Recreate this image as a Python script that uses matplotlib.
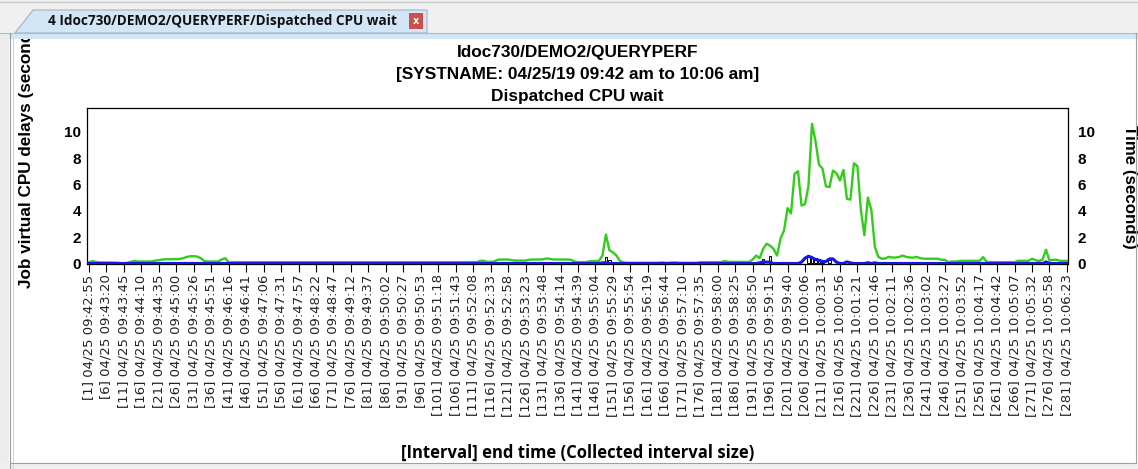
import numpy as np
import matplotlib
matplotlib.use("Agg")
import matplotlib.pyplot as plt
from matplotlib.patches import Rectangle, Polygon
from matplotlib.lines import Line2D

W, H = 1138, 469

# ---------------- data ----------------
green = [
    0.10, 0.18, 0.12, 0.08, 0.08, 0.08, 0.08, 0.07, 0.06, 0.03,   # 1-10
    0.00, 0.05, 0.12, 0.20, 0.15, 0.15, 0.15, 0.15, 0.16, 0.22,   # 11-20
    0.25, 0.30, 0.32, 0.32, 0.33, 0.33, 0.35, 0.40, 0.50, 0.55,   # 21-30
    0.55, 0.52, 0.40, 0.18, 0.15, 0.15, 0.15, 0.15, 0.30, 0.40,   # 31-40
    0.08, 0.10, 0.10, 0.10, 0.10, 0.10, 0.10, 0.10, 0.10, 0.10,   # 41-50
    0.10, 0.10, 0.10, 0.10, 0.10, 0.10, 0.10, 0.10, 0.10, 0.10,   # 51-60
    0.10, 0.10, 0.10, 0.10, 0.10, 0.10, 0.10, 0.10, 0.10, 0.10,   # 61-70
    0.10, 0.10, 0.10, 0.10, 0.10, 0.10, 0.10, 0.10, 0.10, 0.10,   # 71-80
    0.10, 0.10, 0.10, 0.10, 0.10, 0.10, 0.10, 0.10, 0.10, 0.10,   # 81-90
    0.10, 0.10, 0.10, 0.10, 0.10, 0.10, 0.10, 0.10, 0.10, 0.10,   # 91-100
    0.10, 0.10, 0.10, 0.10, 0.10, 0.10, 0.10, 0.10, 0.10, 0.10,   # 101-110
    0.10, 0.10, 0.20, 0.20, 0.12, 0.12, 0.15, 0.28, 0.30, 0.30,   # 111-120
    0.30, 0.25, 0.22, 0.22, 0.22, 0.22, 0.28, 0.30, 0.30, 0.30,   # 121-130
    0.32, 0.38, 0.35, 0.30, 0.30, 0.30, 0.30, 0.30, 0.28, 0.15,   # 131-140
    0.10, 0.10, 0.10, 0.15, 0.18, 0.18, 0.20, 0.60, 2.20, 1.00,   # 141-150
    0.85, 0.60, 0.20, 0.08, 0.05, 0.05, 0.05, 0.05, 0.05, 0.05,   # 151-160
    0.05, 0.05, 0.05, 0.05, 0.08, 0.05, 0.05, 0.08, 0.08, 0.05,   # 161-170
    0.05, 0.05, 0.05, 0.05, 0.05, 0.10, 0.10, 0.10, 0.10, 0.10,   # 171-180
    0.10, 0.10, 0.20, 0.12, 0.12, 0.12, 0.12, 0.12, 0.12, 0.12,   # 181-190
    0.30, 0.60, 0.40, 1.10, 1.50, 1.35, 1.10, 0.60, 1.90, 2.50,   # 191-200
    4.20, 3.80, 6.80, 7.00, 4.40, 4.50, 5.90, 10.60, 9.30, 7.50,  # 201-210
    7.20, 5.85, 5.80, 7.05, 6.85, 6.30, 7.10, 4.90, 4.85, 7.60,   # 211-220
    7.40, 4.05, 2.14, 5.00, 4.05, 1.25, 0.50, 0.36, 0.38, 0.50,   # 221-230
    0.45, 0.45, 0.50, 0.60, 0.50, 0.45, 0.45, 0.50, 0.40, 0.36,   # 231-240
    0.36, 0.36, 0.36, 0.36, 0.28, 0.28, 0.10, 0.15, 0.15, 0.18,   # 241-250
    0.20, 0.20, 0.20, 0.20, 0.20, 0.20, 0.48, 0.12, 0.10, 0.10,   # 251-260
    0.10, 0.10, 0.10, 0.10, 0.10, 0.10, 0.20, 0.20, 0.20, 0.20,   # 261-270
    0.36, 0.25, 0.18, 0.30, 1.04, 0.22, 0.28, 0.28, 0.20, 0.20,   # 271-280
    0.20,                                                         # 281
]

blue_intervals = [148, 149, 193, 194, 195, 196, 205, 206, 207, 208, 209,
                  210, 211, 212, 213, 214, 215, 218, 219, 224, 226, 275]
blue_values = [0.05, 0.05, 0.05, 0.12, 0.10, 0.10, 0.10, 0.40, 0.55, 0.45, 0.30,
               0.25, 0.15, 0.15, 0.35, 0.35, 0.10, 0.12, 0.05, 0.06, 0.05, 0.12]

bar_intervals = [148, 149, 150, 193, 194, 196, 207, 208, 209, 210, 211, 213, 217]
bar_values = [0.10, 0.50, 0.30, 0.10, 0.35, 0.60, 0.55, 0.45, 0.40, 0.35, 0.20, 0.30, 0.08]

tick_intervals = list(range(1, 282, 5))
tick_date = "04/25"
tick_times = [
    "09:42:55", "09:43:20", "09:43:45", "09:44:10", "09:44:35", "09:45:00",
    "09:45:26", "09:45:51", "09:46:16", "09:46:41", "09:47:06", "09:47:31",
    "09:47:57", "09:48:22", "09:48:47", "09:49:12", "09:49:37", "09:50:02",
    "09:50:27", "09:50:53", "09:51:18", "09:51:43", "09:52:08", "09:52:33",
    "09:52:58", "09:53:23", "09:53:48", "09:54:14", "09:54:39", "09:55:04",
    "09:55:29", "09:55:54", "09:56:19", "09:56:44", "09:57:10", "09:57:35",
    "09:58:00", "09:58:25", "09:58:50", "09:59:15", "09:59:40", "10:00:06",
    "10:00:31", "10:00:56", "10:01:21", "10:01:46", "10:02:11", "10:02:36",
    "10:03:02", "10:03:27", "10:03:52", "10:04:17", "10:04:42", "10:05:07",
    "10:05:32", "10:05:58", "10:06:23",
]
y_ticks = [0, 2, 4, 6, 8, 10]

title_lines = ["Idoc730/DEMO2/QUERYPERF",
               "[SYSTNAME: 04/25/19 09:42 am to 10:06 am]",
               "Dispatched CPU wait"]
tab_title = "4 Idoc730/DEMO2/QUERYPERF/Dispatched CPU wait"
x_label = "[Interval] end time (Collected interval size)"
y_label_left = "Job virtual CPU delays (seconds)"
y_label_right = "Time (seconds)"

# ---------------- figure ----------------
fig = plt.figure(figsize=(W / 100, H / 100), dpi=100)
fig.patch.set_facecolor("white")


def fx(x):
    return x / W


def fy(y):
    return 1 - y / H


def rect(x0, y0, x1, y1, color, z=10, ec="none", lw=0):
    fig.add_artist(Rectangle((fx(x0), fy(y1)), fx(x1) - fx(x0), fy(y0) - fy(y1),
                             transform=fig.transFigure, facecolor=color,
                             edgecolor=ec, linewidth=lw, zorder=z))


def hline(y, x0, x1, color, lw=1.0, z=11):
    fig.add_artist(Line2D([fx(x0), fx(x1)], [fy(y), fy(y)], transform=fig.transFigure,
                          color=color, linewidth=lw, zorder=z))


def vline(x, y0, y1, color, lw=1.0, z=11):
    fig.add_artist(Line2D([fx(x), fx(x)], [fy(y0), fy(y1)], transform=fig.transFigure,
                          color=color, linewidth=lw, zorder=z))


# window chrome (drawn above the left axis title so that it is cut at the top)
rect(0, 0, W, 33, "#f0f0f0")
hline(2.5, 0, W, "#c8c8c8")
fig.add_artist(Polygon([(fx(15), fy(33)), (fx(33), fy(10)), (fx(427), fy(10)), (fx(427), fy(33))],
                       closed=True, transform=fig.transFigure, facecolor="#d3e6f6",
                       edgecolor="#9fb4c8", linewidth=0.8, zorder=11))
rect(0, 33, W, 39, "#d3e6f6", z=11)
hline(33, 0, W, "#a9bccd", lw=0.8, z=12)
rect(409, 13, 423, 29, "#c9504b", z=13)
fig.text(fx(416), fy(21), "x", ha="center", va="center", color="white",
         fontsize=7, fontweight="bold", family="DejaVu Sans", zorder=14)
fig.text(fx(48), fy(21), tab_title, ha="left", va="center", color="#111111",
         fontsize=9.8, fontweight="bold", family="Open Sans", zorder=14)
rect(0, 33, 9, H, "#ececec", z=11)
vline(10, 33, H, "#9a9a9a", lw=0.8, z=12)
vline(12.5, 39, H, "#d4d4d4", lw=0.8, z=12)
vline(1135.5, 33, 462, "#a0a0a0", lw=0.8, z=12)
rect(0, 463, W, H, "#f0f0f0", z=11)
hline(462.5, 10, 1136, "#a0a0a0", lw=0.8, z=12)

# ---------------- axes ----------------
ax = fig.add_axes([fx(87), fy(264), fx(1068) - fx(87), fy(108) - fy(264)])
ax.set_facecolor("white")
x = np.arange(1, len(green) + 1)
blue = np.zeros(len(green))
blue[np.array(blue_intervals) - 1] = blue_values

ax.bar(bar_intervals, bar_values, width=0.8, color="#f4efc4", edgecolor="black",
       linewidth=0.7, zorder=2)
ax.plot(x, green, color="#33cc1a", linewidth=1.7, zorder=3, solid_joinstyle="round")
ax.plot(x, blue, color="#1515f0", linewidth=2.2, zorder=4, solid_joinstyle="round")

ax.set_xlim(0.43, 281.3)
ax.set_ylim(-0.04, 11.8)
for s in ax.spines.values():
    s.set_linewidth(0.9)
    s.set_color("black")

ax.set_xticks(tick_intervals)
ax.set_xticklabels([f"[{n}] {tick_date} {t}" for n, t in zip(tick_intervals, tick_times)],
                   rotation=90, va="top", ha="center", family="DejaVu Sans",
                   fontsize=9.5, color="#222222")
ax.tick_params(axis="x", direction="out", length=6, width=0.8, pad=1.5)

ax.set_yticks(y_ticks)
ax.set_yticklabels([str(v) for v in y_ticks], fontsize=11, fontweight="bold",
                   family="Liberation Sans")
ax.tick_params(axis="y", length=0, pad=4.3)

ax2 = ax.twinx()
ax2.set_ylim(ax.get_ylim())
ax2.set_yticks(y_ticks)
ax2.set_yticklabels([str(v) for v in y_ticks], fontsize=11, fontweight="bold",
                    family="Liberation Sans")
ax2.tick_params(axis="y", length=0, pad=7)
for s in ax2.spines.values():
    s.set_visible(False)

# ---------------- texts ----------------
for i, line in enumerate(title_lines):
    fig.text(fx(577.5), fy(52.5 + 22 * i), line, ha="center", va="center",
             fontsize=12.4, fontweight="bold", family="Liberation Sans")

fig.text(fx(577.5), fy(453), x_label, ha="center", va="center",
         fontsize=12.0, fontweight="bold", family="Open Sans", zorder=5)

fig.text(fx(27), fy(288), y_label_left, rotation=90, ha="center", va="bottom",
         fontsize=12.3, fontweight="bold", family="Liberation Sans", zorder=1)

fig.text(fx(1129), fy(187), y_label_right, rotation=270, ha="center", va="center",
         fontsize=12.2, fontweight="bold", family="Liberation Sans")

fig.savefig("out.png", dpi=100, facecolor=fig.get_facecolor())
